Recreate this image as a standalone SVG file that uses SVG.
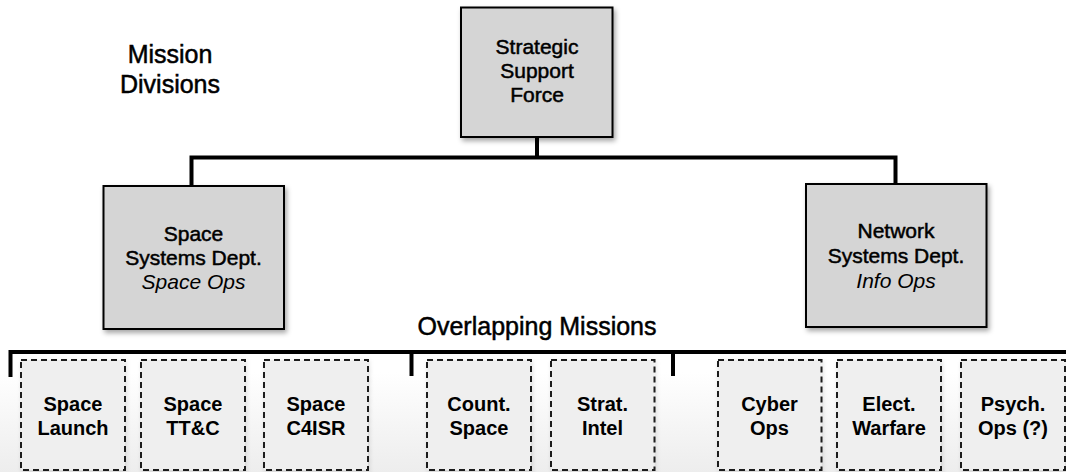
<svg xmlns="http://www.w3.org/2000/svg" width="1066" height="472" viewBox="0 0 1066 472">
  <defs>
    <filter id="shadow" x="-10%" y="-10%" width="130%" height="130%">
      <feDropShadow dx="2" dy="3" stdDeviation="2.5" flood-color="#000" flood-opacity="0.35"/>
    </filter>
    <filter id="softshadow" x="-10%" y="-10%" width="130%" height="130%">
      <feDropShadow dx="1" dy="2" stdDeviation="2" flood-color="#000" flood-opacity="0.12"/>
    </filter>
    <linearGradient id="floor" x1="0" y1="0" x2="0" y2="1">
      <stop offset="0" stop-color="#ffffff"/>
      <stop offset="1" stop-color="#ededed"/>
    </linearGradient>
    <style>
      text { font-family: "Liberation Sans", Arial, Helvetica, sans-serif; fill: #000; text-anchor: middle; }
      .title { font-size: 25px; stroke: #000; stroke-width: 0.5px; }
      .dept { font-size: 21px; stroke: #000; stroke-width: 0.5px; }
      .ital { font-style: italic; stroke: none; }
      .mission { font-size: 20px; font-weight: bold; }
      .solid { fill: #d5d5d5; stroke: #000; stroke-width: 2; filter: url(#shadow); }
      .dashed { fill: #efefef; stroke: #1a1a1a; stroke-width: 2; stroke-dasharray: 6 4; filter: url(#softshadow); }
      .conn { stroke: #000; stroke-width: 4; fill: none; stroke-linecap: butt; }
    </style>
  </defs>

  <rect x="0" y="0" width="1066" height="472" fill="#ffffff"/>
  <rect x="0" y="372" width="1066" height="100" fill="url(#floor)"/>

  <g id="labels">
    <text class="title" x="170" y="63">Mission</text>
    <text class="title" x="170" y="93">Divisions</text>
    <text class="title" x="537" y="335">Overlapping Missions</text>
  </g>

  <g id="connectors">
    <line class="conn" x1="537" y1="137" x2="537" y2="158"/>
    <polyline class="conn" points="191.5,186 191.5,157.5 895.5,157.5 895.5,184"/>
    <polyline class="conn" points="10.5,377 10.5,352 1066,352"/>
    <line class="conn" x1="411.5" y1="352" x2="411.5" y2="376"/>
    <line class="conn" x1="673" y1="352" x2="673" y2="376"/>
  </g>

  <g id="ssf">
    <rect class="solid" x="461" y="7.5" width="151.5" height="129.5"/>
    <text class="dept" x="537" y="54">Strategic</text>
    <text class="dept" x="537" y="78">Support</text>
    <text class="dept" x="537" y="102">Force</text>
  </g>

  <g id="space-dept">
    <rect class="solid" x="103.5" y="186" width="180.5" height="143"/>
    <text class="dept" x="193.5" y="241">Space</text>
    <text class="dept" x="193.5" y="265">Systems Dept.</text>
    <text class="dept ital" x="193.5" y="289">Space Ops</text>
  </g>

  <g id="network-dept">
    <rect class="solid" x="806" y="184" width="180.5" height="143"/>
    <text class="dept" x="896" y="238">Network</text>
    <text class="dept" x="896" y="263">Systems Dept.</text>
    <text class="dept ital" x="896" y="288">Info Ops</text>
  </g>

  <g id="space-launch">
    <rect class="dashed" x="21" y="360" width="104" height="110"/>
    <text class="mission" x="73" y="411">Space</text>
    <text class="mission" x="73" y="435">Launch</text>
  </g>
  <g id="space-ttc">
    <rect class="dashed" x="141" y="360" width="104" height="110"/>
    <text class="mission" x="193" y="411">Space</text>
    <text class="mission" x="193" y="435">TT&amp;C</text>
  </g>
  <g id="space-c4isr">
    <rect class="dashed" x="264" y="360" width="104" height="110"/>
    <text class="mission" x="316" y="411">Space</text>
    <text class="mission" x="316" y="435">C4ISR</text>
  </g>
  <g id="counter-space">
    <rect class="dashed" x="427" y="360" width="104" height="110"/>
    <text class="mission" x="479" y="411">Count.</text>
    <text class="mission" x="479" y="435">Space</text>
  </g>
  <g id="strat-intel">
    <rect class="dashed" x="551" y="360" width="103.5" height="110"/>
    <text class="mission" x="602.5" y="411">Strat.</text>
    <text class="mission" x="602.5" y="435">Intel</text>
  </g>
  <g id="cyber-ops">
    <rect class="dashed" x="718" y="360" width="103.5" height="110"/>
    <text class="mission" x="769.5" y="411">Cyber</text>
    <text class="mission" x="769.5" y="435">Ops</text>
  </g>
  <g id="elect-warfare">
    <rect class="dashed" x="837" y="360" width="104" height="110"/>
    <text class="mission" x="889" y="411">Elect.</text>
    <text class="mission" x="889" y="435">Warfare</text>
  </g>
  <g id="psych-ops">
    <rect class="dashed" x="961" y="360" width="104" height="110"/>
    <text class="mission" x="1013" y="411">Psych.</text>
    <text class="mission" x="1013" y="435">Ops (?)</text>
  </g>
</svg>
